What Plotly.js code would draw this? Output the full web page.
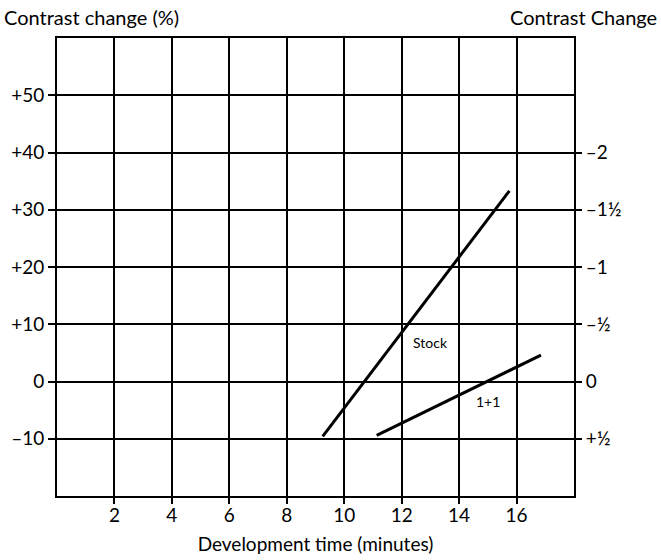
<!DOCTYPE html>
<html>
<head>
<meta charset="utf-8">
<script src="https://cdn.plot.ly/plotly-3.0.1.min.js"></script>
<style>html,body{margin:0;padding:0;background:#fff;}#chart{width:661px;height:560px;}</style>
</head>
<body>
<div id="chart"></div>
<script>
// Data
const stockX = [9.25, 15.75];
const stockY = [-9.6, 33.3];
const onePlusOneX = [11.13, 16.85];
const onePlusOneY = [-9.4, 4.6];
const xTickVals = [2, 4, 6, 8, 10, 12, 14, 16];
const yTickVals = [50, 40, 30, 20, 10, 0, -10];
const yTickText = ['+50', '+40', '+30', '+20', '+10', '0', '\u201310'];
const rightTickVals = [40, 30, 20, 10, 0, -10];
const rightTickText = ['\u20132', '\u20131\u00bd', '\u20131', '\u2013\u00bd', '0', '+\u00bd'];
const seriesLabels = [
  {text: 'Stock', x: 13.0, y: 6.9},
  {text: '1+1', x: 15.0, y: -3.5}
];

const FONT = 'Lato, "Open Sans", sans-serif';

const traces = [
  {x: stockX, y: stockY, mode: 'lines', line: {color: '#000', width: 3}, showlegend: false, hoverinfo: 'skip'},
  {x: onePlusOneX, y: onePlusOneY, mode: 'lines', line: {color: '#000', width: 3}, showlegend: false, hoverinfo: 'skip'},
  {x: [0], y: [0], yaxis: 'y2', mode: 'markers', marker: {opacity: 0}, showlegend: false, hoverinfo: 'skip'}
];

const annotations = seriesLabels.map(l => ({
  text: l.text, x: l.x, y: l.y, xref: 'x', yref: 'y', showarrow: false,
  font: {family: FONT, size: 14, color: '#000'}
}));
annotations.push({text: 'Contrast change (%)', xref: 'paper', yref: 'paper', x: 0, xshift: -55, y: 1.0, yshift: 21, xanchor: 'left', yanchor: 'middle', showarrow: false, font: {family: FONT, size: 20, color: '#000'}});
annotations.push({text: 'Contrast Change', xref: 'paper', yref: 'paper', x: 1.0, xshift: 85, y: 1.0, yshift: 21, xanchor: 'right', yanchor: 'middle', showarrow: false, font: {family: FONT, size: 20, color: '#000'}});

const layout = {
  width: 661, height: 560,
  margin: {l: 57, r: 87, t: 38, b: 64},
  paper_bgcolor: '#fff', plot_bgcolor: '#fff',
  font: {family: FONT, size: 19, color: '#000'},
  xaxis: {
    range: [0, 18], tickvals: xTickVals, ticktext: xTickVals.map(String),
    showgrid: true, gridcolor: '#000', gridwidth: 2,
    showline: true, linecolor: '#000', linewidth: 2, mirror: true,
    ticks: 'outside', ticklen: 6, tickwidth: 2, tickcolor: '#000',
    ticklabelstandoff: -5,
    zeroline: false, fixedrange: true,
    title: {text: 'Development time (minutes)', font: {family: FONT, size: 19, color: '#000'}, standoff: 13}
  },
  yaxis: {
    range: [-20, 60], tickvals: yTickVals, ticktext: yTickText,
    showgrid: true, gridcolor: '#000', gridwidth: 2,
    showline: true, linecolor: '#000', linewidth: 2, mirror: true,
    ticks: 'outside', ticklen: 7, tickwidth: 2, tickcolor: '#000',
    zeroline: false, fixedrange: true
  },
  yaxis2: {
    range: [-20, 60], overlaying: 'y', side: 'right',
    tickvals: rightTickVals, ticktext: rightTickText,
    showgrid: false, showline: false, zeroline: false,
    ticks: 'outside', ticklen: 7, tickwidth: 2, tickcolor: '#000',
    fixedrange: true
  },
  annotations: annotations
};

Plotly.newPlot('chart', traces, layout, {displayModeBar: false, staticPlot: true});
</script>
</body>
</html>
